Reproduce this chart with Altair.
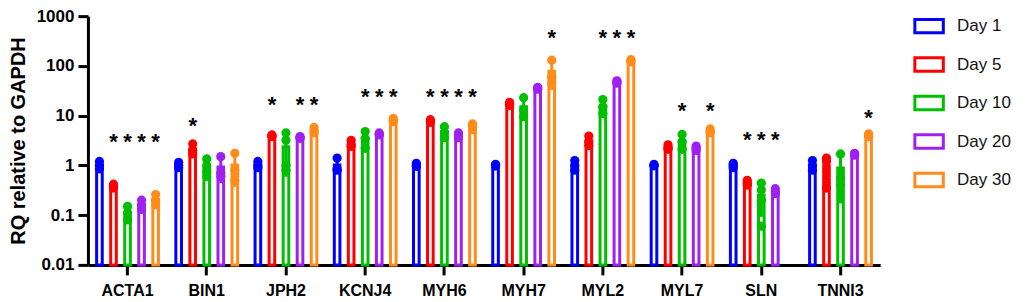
import altair as alt
import pandas as pd

genes = ["ACTA1", "BIN1", "JPH2", "KCNJ4", "MYH6", "MYH7", "MYL2", "MYL7", "SLN", "TNNI3"]
days = ["Day 1", "Day 5", "Day 10", "Day 20", "Day 30"]
colors = ["#0000ff", "#ff0000", "#00bf00", "#a020f0", "#ff8c1a"]

# replicate RQ values (relative to GAPDH), one list per gene, in gene order
rq_day1 = [[1.2, 1.0, 0.85], [1.15, 1.0, 0.9], [1.2, 1.0, 0.9], [1.4, 0.85, 0.8], [1.1, 1.0, 0.95],
           [1.05, 1.0, 0.97], [1.25, 1.0, 0.8], [1.05, 1.0, 0.98], [1.1, 1.0, 0.9], [1.25, 1.0, 0.8]]
rq_day5 = [[0.42, 0.38, 0.35], [2.7, 2.0, 1.7], [4.1, 3.9, 3.8], [3.2, 2.6, 2.4], [8.3, 7.8, 7.3],
           [18.5, 17.0, 16.0], [3.9, 3.0, 2.5], [2.6, 2.3, 2.1], [0.5, 0.44, 0.4], [1.4, 1.2, 0.35]]
rq_day10 = [[0.15, 0.11, 0.08], [1.35, 1.0, 0.75, 0.6], [4.5, 3.2, 1.0, 0.8], [4.8, 3.5, 2.2], [6.0, 4.6, 3.6],
            [23.0, 13.0, 9.5], [21.0, 15.0, 11.0], [4.2, 3.0, 2.1], [0.44, 0.32, 0.2, 0.06], [1.7, 0.55, 0.4]]
rq_day20 = [[0.2, 0.16, 0.13], [1.5, 0.7, 0.6], [3.8, 3.6, 3.5], [4.5, 4.2, 4.1], [4.5, 4.2, 3.6],
            [37.0, 35.0, 34.0], [50.0, 48.0, 45.0], [2.45, 2.2, 2.0], [0.34, 0.3, 0.27], [1.75, 1.6, 1.7]]
rq_day30 = [[0.26, 0.2, 0.16], [1.75, 0.8, 0.5], [5.8, 5.0, 4.5], [8.8, 7.8, 7.5], [6.8, 5.8, 5.2],
            [130.0, 60.0, 45.0], [133.0, 125.0, 120.0], [5.4, 4.8, 4.5], [], [4.3, 4.0, 3.8]]

# significance marks: 1 = "*" above that day's bar; level = height of the asterisk row
sig_day1 = [0, 0, 0, 0, 0, 0, 0, 0, 0, 0]
sig_day5 = [1, 1, 1, 0, 1, 0, 0, 0, 1, 0]
sig_day10 = [1, 0, 0, 1, 1, 0, 1, 1, 1, 0]
sig_day20 = [1, 0, 1, 1, 1, 0, 1, 0, 1, 0]
sig_day30 = [1, 0, 1, 1, 1, 1, 1, 1, 0, 1]
sig_level = [3.15, 6.6, 17.1, 25.0, 25.0, 372.0, 372.0, 13.0, 3.45, 9.6]

all_rq = [rq_day1, rq_day5, rq_day10, rq_day20, rq_day30]
all_sig = [sig_day1, sig_day5, sig_day10, sig_day20, sig_day30]

rows = []
for d, per_gene in zip(days, all_rq):
    for g, vals in zip(genes, per_gene):
        for v in vals:
            rows.append({"gene": g, "day": d, "rq": v})
df = pd.DataFrame(rows)

srows = []
for d, flags in zip(days, all_sig):
    for g, f, lvl in zip(genes, flags, sig_level):
        if f:
            srows.append({"gene": g, "day": d, "level": lvl, "mark": "*"})
sdf = pd.DataFrame(srows)

FONT = "Liberation Sans"
YTITLE = "RQ relative to GAPDH"
# hollow rectangle legend glyph (outer frame minus inner hole, opposite winding)
FRAME = ("M-1.05,-0.55L1.05,-0.55L1.05,0.55L-1.05,0.55Z"
         "M-0.85,-0.35L-0.85,0.35L0.85,0.35L0.85,-0.35Z")

x_enc = alt.X("gene:N", sort=genes, title=None,
              scale=alt.Scale(paddingInner=0.22, paddingOuter=0.11))
xo_enc = alt.XOffset("day:N", sort=days,
                     scale=alt.Scale(domain=days, paddingInner=0.6, paddingOuter=0))
y_scale = alt.Scale(type="log", domain=[0.01, 1000])
y_axis = alt.Axis(values=[0.01, 0.1, 1, 10, 100, 1000], format="~g", title=YTITLE)
col_scale = alt.Scale(domain=days, range=colors)

base = alt.Chart(df)

bars = base.mark_bar(filled=False, strokeWidth=3).encode(
    x=x_enc,
    xOffset=xo_enc,
    y=alt.Y("mean(rq):Q", scale=y_scale, axis=y_axis, title=YTITLE),
    y2=alt.datum(0.01),
    stroke=alt.Stroke("day:N", sort=days, scale=col_scale,
                      legend=alt.Legend(title=None, orient="none", legendX=827, legendY=-5,
                                        symbolType=FRAME,
                                        symbolSize=900, symbolStrokeWidth=0,
                                        labelFont=FONT, labelFontSize=17, labelColor="#111111",
                                        labelOffset=13, rowPadding=14.5)),
)

errs = base.mark_errorbar(extent="stdev", thickness=3).encode(
    x=x_enc,
    xOffset=xo_enc,
    y=alt.Y("rq:Q", scale=y_scale, title=YTITLE),
    color=alt.Color("day:N", sort=days, scale=col_scale, legend=None),
)

dots = base.mark_circle(size=85, opacity=1).encode(
    x=x_enc,
    xOffset=xo_enc,
    y=alt.Y("rq:Q", scale=y_scale, title=YTITLE),
    color=alt.Color("day:N", sort=days, scale=col_scale, legend=None),
)

stars = alt.Chart(sdf).mark_text(font=FONT, fontSize=22, fontWeight="bold", color="black",
                                 dy=1, baseline="middle").encode(
    x=x_enc,
    xOffset=xo_enc,
    y=alt.Y("level:Q", scale=y_scale, title=YTITLE),
    text="mark:N",
)

chart = alt.layer(bars, errs, dots, stars).properties(
    width=793, height=249,
    autosize=alt.AutoSizeParams(type="none"),
    padding={"left": 80, "top": 8, "right": 138, "bottom": 35},
).configure_view(strokeWidth=0).configure_axis(
    domainColor="black", domainWidth=3, tickColor="black", tickWidth=3, tickSize=10,
    labelFont=FONT, labelFontWeight="bold", labelColor="black", grid=False,
    titleFont=FONT, titleFontWeight="bold", titleColor="black",
).configure_axisY(
    labelFontSize=17, labelPadding=4, titleFontSize=20, titlePadding=8,
).configure_axisX(
    labelFontSize=16, labelAngle=0, labelPadding=8,
)

chart.save("out.html", embed_options={"renderer": "svg", "actions": False})
